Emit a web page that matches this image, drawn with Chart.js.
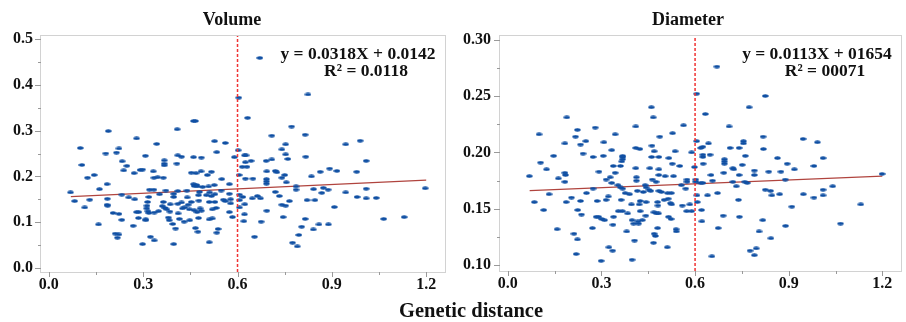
<!DOCTYPE html>
<html>
<head>
<meta charset="utf-8">
<script src="https://cdn.jsdelivr.net/npm/chart.js@4.4.1/dist/chart.umd.min.js"></script>
<style>
  html, body { margin: 0; padding: 0; background: #fff; }
  #wrap { position: relative; width: 906px; height: 322px; background: #fff; }
  #volCanvas { position: absolute; left: 0; top: 0; }
  #diaCanvas { position: absolute; left: 450px; top: 0; }
  #xTitle {
    position: absolute; left: 0; width: 942px; top: 299px; text-align: center;
    font: bold 20.5px "Liberation Serif", serif; color: #111;
  }
</style>
</head>
<body>
<div id="wrap">
  <canvas id="volCanvas" width="450" height="300"></canvas>
  <canvas id="diaCanvas" width="456" height="300"></canvas>
  <div id="xTitle">Genetic distance</div>
</div>
<script>
// ---- data ----
const xTicks = [0, 0.3, 0.6, 0.9, 1.2];
const xTickLabels = ['0.0', '0.3', '0.6', '0.9', '1.2'];
const volTicks = [0, 0.1, 0.2, 0.3, 0.4, 0.5];
const volTickLabels = ['0.0', '0.1', '0.2', '0.3', '0.4', '0.5'];
const diaTicks = [0.10, 0.15, 0.20, 0.25, 0.30];
const diaTickLabels = ['0.10', '0.15', '0.20', '0.25', '0.30'];

const cutoff = 0.6;            // red dashed line
const fitRange = [0.07, 1.2];  // extent of the regression line
const volFit = { slope: 0.0318, intercept: 0.1535 };
const diaFit = { slope: 0.0113, intercept: 0.1654 };
const volEquation = ['y = 0.0318X + 0.0142', 'R\u00B2 = 0.0118'];
const diaEquation = ['y = 0.0113X + 01654', 'R\u00B2 = 00071'];

// [genetic distance, volume]
const volumePoints = [
  [0.671,0.459],[0.604,0.372],[0.824,0.379],[0.632,0.328],[0.460,0.321],[0.466,0.321],[0.408,0.303],
  [0.189,0.299],[0.772,0.309],[0.815,0.291],[0.709,0.289],[0.279,0.283],[0.990,0.278],[0.527,0.277],
  [0.561,0.273],[0.343,0.271],[0.944,0.270],[0.753,0.270],[0.100,0.262],[0.223,0.261],[0.602,0.257],
  [0.741,0.259],[0.534,0.253],[0.181,0.250],[0.215,0.252],[0.753,0.248],[0.307,0.245],[0.410,0.246],
  [0.422,0.243],[0.460,0.242],[0.485,0.241],[0.590,0.242],[0.622,0.246],[0.627,0.246],[0.817,0.243],
  [0.709,0.237],[0.760,0.238],[0.367,0.235],[0.233,0.233],[0.625,0.231],[0.643,0.234],[0.691,0.234],
  [1.009,0.234],[0.367,0.228],[0.367,0.224],[0.407,0.228],[0.105,0.225],[0.248,0.223],[0.615,0.221],
  [0.630,0.221],[0.298,0.215],[0.238,0.213],[0.290,0.214],[0.332,0.211],[0.453,0.208],[0.484,0.211],
  [0.468,0.207],[0.517,0.210],[0.271,0.207],[0.693,0.211],[0.720,0.212],[0.725,0.209],[0.863,0.210],
  [0.893,0.217],[0.916,0.212],[0.979,0.210],[0.144,0.203],[0.504,0.203],[0.605,0.203],[0.750,0.203],
  [0.835,0.200],[0.123,0.197],[0.334,0.197],[0.364,0.197],[0.346,0.198],[0.550,0.194],[0.625,0.195],
  [0.649,0.195],[0.692,0.194],[0.692,0.189],[0.692,0.184],[0.741,0.197],[0.755,0.187],[0.185,0.183],
  [0.574,0.183],[0.460,0.183],[0.470,0.181],[0.462,0.179],[0.472,0.178],[0.489,0.177],[0.508,0.178],
  [0.526,0.181],[0.786,0.178],[0.786,0.171],[0.873,0.175],[0.888,0.171],[1.009,0.173],[1.197,0.174],
  [0.069,0.165],[0.161,0.172],[0.320,0.171],[0.334,0.171],[0.372,0.169],[0.410,0.168],[0.439,0.169],
  [0.479,0.166],[0.511,0.165],[0.548,0.169],[0.574,0.162],[0.606,0.160],[0.663,0.157],[0.673,0.152],
  [0.720,0.166],[0.842,0.172],[0.868,0.164],[0.944,0.165],[0.232,0.160],[0.352,0.161],[0.397,0.162],
  [0.397,0.155],[0.476,0.159],[0.501,0.159],[0.517,0.157],[0.528,0.161],[0.617,0.155],[0.733,0.157],
  [0.980,0.155],[1.009,0.152],[1.041,0.153],[0.254,0.154],[0.273,0.150],[0.130,0.149],[0.186,0.151],
  [0.318,0.155],[0.440,0.154],[0.477,0.147],[0.555,0.149],[0.561,0.146],[0.578,0.150],[0.606,0.148],
  [0.647,0.152],[0.765,0.146],[0.821,0.148],[0.846,0.148],[0.082,0.146],[0.314,0.144],[0.364,0.144],
  [0.422,0.143],[0.453,0.144],[0.510,0.144],[0.528,0.144],[0.185,0.138],[0.187,0.136],[0.312,0.136],
  [0.361,0.135],[0.386,0.139],[0.410,0.140],[0.443,0.138],[0.578,0.141],[0.623,0.139],[0.741,0.138],
  [0.753,0.136],[0.908,0.133],[0.114,0.132],[0.311,0.130],[0.369,0.131],[0.375,0.128],[0.425,0.130],
  [0.432,0.132],[0.447,0.128],[0.462,0.126],[0.481,0.130],[0.532,0.131],[0.606,0.132],[0.279,0.122],
  [0.315,0.124],[0.318,0.120],[0.335,0.121],[0.349,0.124],[0.385,0.123],[0.411,0.119],[0.471,0.122],
  [0.485,0.125],[0.520,0.128],[0.204,0.120],[0.223,0.118],[0.286,0.122],[0.574,0.122],[0.622,0.117],
  [0.693,0.125],[0.285,0.109],[0.308,0.106],[0.308,0.104],[0.380,0.110],[0.383,0.104],[0.415,0.107],
  [0.448,0.104],[0.430,0.101],[0.476,0.109],[0.510,0.106],[0.520,0.108],[0.584,0.111],[0.745,0.111],
  [0.815,0.107],[1.065,0.107],[1.130,0.111],[0.232,0.105],[0.620,0.102],[0.675,0.101],[0.158,0.095],
  [0.394,0.096],[0.268,0.092],[0.859,0.095],[0.889,0.095],[0.403,0.086],[0.466,0.087],[0.538,0.085],
  [0.804,0.090],[0.841,0.084],[0.474,0.079],[0.534,0.077],[0.211,0.075],[0.218,0.066],[0.223,0.073],
  [0.795,0.072],[0.323,0.068],[0.654,0.068],[0.335,0.060],[0.510,0.056],[0.775,0.055],[0.790,0.047],
  [0.298,0.052],[0.397,0.052]
];

// [genetic distance, diameter]
const diameterPoints = [
  [0.670,0.276],[0.605,0.252],[0.825,0.250],[0.633,0.234],[0.460,0.240],[0.466,0.231],[0.189,0.231],
  [0.773,0.240],[0.410,0.223],[0.563,0.224],[0.709,0.223],[0.280,0.222],[0.223,0.220],[0.100,0.216],
  [0.344,0.216],[0.528,0.217],[0.487,0.214],[0.217,0.214],[0.818,0.214],[0.946,0.212],[0.605,0.210],
  [0.755,0.210],[0.755,0.208],[0.992,0.209],[0.250,0.210],[0.308,0.209],[0.183,0.208],[0.233,0.207],
  [0.462,0.206],[0.643,0.208],[0.410,0.204],[0.423,0.203],[0.625,0.205],[0.618,0.204],[0.712,0.204],
  [0.741,0.204],[0.819,0.203],[0.333,0.202],[0.469,0.201],[0.536,0.201],[0.589,0.200],[0.241,0.199],
  [0.147,0.197],[0.368,0.197],[0.368,0.196],[0.368,0.194],[0.273,0.196],[0.306,0.197],[0.461,0.196],
  [0.484,0.196],[0.516,0.195],[0.625,0.198],[0.625,0.196],[0.648,0.198],[0.694,0.194],[0.694,0.192],
  [0.694,0.190],[0.761,0.197],[0.864,0.195],[1.010,0.195],[0.105,0.191],[0.365,0.192],[0.527,0.190],
  [0.551,0.188],[0.626,0.190],[0.751,0.189],[0.895,0.190],[0.981,0.188],[0.338,0.188],[0.361,0.188],
  [0.124,0.185],[0.410,0.186],[0.455,0.186],[0.484,0.185],[0.598,0.187],[0.721,0.186],[0.724,0.185],
  [0.918,0.185],[0.292,0.183],[0.344,0.182],[0.183,0.182],[0.185,0.180],[0.484,0.180],[0.504,0.179],
  [0.531,0.179],[0.692,0.182],[0.790,0.184],[0.790,0.180],[0.836,0.183],[0.875,0.183],[0.741,0.180],
  [0.651,0.180],[1.199,0.181],[0.069,0.179],[0.162,0.177],[0.328,0.178],[0.315,0.176],[0.412,0.178],
  [0.412,0.175],[0.463,0.176],[0.475,0.174],[0.574,0.176],[0.574,0.174],[0.602,0.176],[0.602,0.174],
  [0.656,0.175],[0.183,0.174],[0.333,0.173],[0.721,0.174],[0.759,0.174],[0.767,0.173],[0.889,0.176],
  [0.353,0.171],[0.361,0.169],[0.440,0.171],[0.443,0.169],[0.452,0.167],[0.458,0.166],[0.556,0.171],
  [0.618,0.173],[0.625,0.173],[0.732,0.170],[1.041,0.170],[0.273,0.168],[0.368,0.168],[0.376,0.164],
  [0.390,0.163],[0.415,0.166],[0.434,0.165],[0.484,0.166],[0.492,0.165],[0.512,0.164],[0.524,0.164],
  [0.514,0.159],[0.570,0.168],[0.672,0.164],[0.825,0.167],[0.842,0.166],[0.846,0.162],[0.871,0.163],
  [1.010,0.167],[1.010,0.162],[0.132,0.163],[0.252,0.164],[0.606,0.162],[0.640,0.162],[0.947,0.163],
  [0.981,0.160],[0.204,0.160],[0.085,0.156],[0.187,0.156],[0.233,0.157],[0.286,0.157],[0.315,0.158],
  [0.322,0.161],[0.363,0.158],[0.396,0.154],[0.424,0.157],[0.421,0.154],[0.443,0.156],[0.480,0.156],
  [0.481,0.153],[0.501,0.158],[0.521,0.155],[0.525,0.154],[0.559,0.153],[0.583,0.154],[0.607,0.156],
  [0.739,0.158],[0.910,0.152],[1.131,0.154],[0.115,0.149],[0.224,0.149],[0.236,0.145],[0.354,0.148],
  [0.367,0.148],[0.384,0.146],[0.424,0.148],[0.442,0.144],[0.468,0.147],[0.476,0.146],[0.483,0.146],
  [0.573,0.148],[0.589,0.148],[0.621,0.149],[0.283,0.143],[0.291,0.143],[0.301,0.141],[0.310,0.140],
  [0.339,0.143],[0.398,0.140],[0.417,0.139],[0.419,0.137],[0.403,0.137],[0.431,0.140],[0.515,0.143],
  [0.523,0.141],[0.690,0.144],[0.742,0.143],[0.817,0.140],[0.622,0.139],[0.890,0.135],[1.066,0.137],
  [0.337,0.136],[0.271,0.133],[0.158,0.132],[0.480,0.133],[0.473,0.126],[0.539,0.132],[0.540,0.130],
  [0.674,0.133],[0.381,0.130],[0.212,0.128],[0.805,0.130],[0.469,0.128],[0.223,0.123],[0.843,0.124],
  [0.406,0.122],[0.467,0.120],[0.511,0.116],[0.324,0.116],[0.336,0.113],[0.776,0.113],[0.796,0.115],
  [0.790,0.109],[0.219,0.110],[0.654,0.108],[0.398,0.105],[0.299,0.104]
];

// ---- drawing ----
const serif = '"Liberation Serif", "Times New Roman", serif';
const dotColor = '#0f4fa3';

// small flattened dot like the original markers
function makeDot() {
  const c = document.createElement('canvas');
  c.width = 7; c.height = 4;
  const g = c.getContext('2d');
  g.fillStyle = dotColor;
  g.beginPath();
  g.ellipse(3.5, 2, 3.2, 1.7, 0, 0, Math.PI * 2);
  g.fill();
  return c;
}
const dot = makeDot();

// frame, tick marks, title and equation for each panel
const panelDecor = {
  id: 'panelDecor',
  afterDraw(chart, args, opts) {
    const ctx = chart.ctx;
    const a = chart.chartArea;
    const xs = chart.scales.x, ys = chart.scales.y;
    ctx.save();
    ctx.strokeStyle = '#d2d2d2';
    ctx.lineWidth = 1;
    ctx.strokeRect(Math.round(a.left) - 0.5, Math.round(a.top) + 0.5,
      Math.round(a.right - a.left), Math.round(a.bottom - a.top));

    ctx.strokeStyle = '#999';
    ctx.beginPath();
    opts.xMajor.forEach((v, i) => {
      const px = Math.round(xs.getPixelForValue(v)) + 0.5;
      ctx.moveTo(px, a.bottom); ctx.lineTo(px, a.bottom + 5);
      if (i < opts.xMajor.length - 1) {
        const mx = Math.round(xs.getPixelForValue((v + opts.xMajor[i + 1]) / 2)) + 0.5;
        ctx.moveTo(mx, a.bottom); ctx.lineTo(mx, a.bottom + 3);
      }
    });
    opts.yMajor.forEach((v, i) => {
      const py = Math.round(ys.getPixelForValue(v)) + 0.5;
      ctx.moveTo(a.left, py); ctx.lineTo(a.left - 6, py);
      if (i < opts.yMajor.length - 1) {
        const my = Math.round(ys.getPixelForValue((v + opts.yMajor[i + 1]) / 2)) + 0.5;
        ctx.moveTo(a.left, my); ctx.lineTo(a.left - 3, my);
      }
    });
    ctx.stroke();

    ctx.fillStyle = '#111';
    ctx.textAlign = 'center';
    ctx.textBaseline = 'middle';
    ctx.font = 'bold 18px ' + serif;
    ctx.fillText(opts.title, opts.titleX, 20);
    ctx.font = 'bold 17.5px ' + serif;
    ctx.fillText(opts.eq[0], opts.eqX, 54);
    ctx.fillText(opts.eq[1], opts.eqX + 8, 71);
    ctx.restore();
  }
};

function fitLine(fit) {
  return fitRange.map(x => ({ x: x, y: fit.slope * x + fit.intercept }));
}

function makePanel(canvasId, points, fit, yTicks, yLabels, yMin, yMax, cfg) {
  const tickFont = { family: serif, size: 16, weight: 'bold' };
  return new Chart(document.getElementById(canvasId), {
    type: 'scatter',
    data: {
      datasets: [
        {
          data: [{ x: cutoff, y: yMin }, { x: cutoff, y: yMax }],
          showLine: true, pointRadius: 0,
          borderColor: '#f03232', borderWidth: 1.5, borderDash: [3, 2]
        },
        {
          data: points.map(p => ({ x: p[0], y: p[1] })),
          pointStyle: dot, pointRadius: 3,
          backgroundColor: dotColor, borderWidth: 0
        },
        {
          data: fitLine(fit),
          showLine: true, pointRadius: 0,
          borderColor: '#b0443e', borderWidth: 1.3
        }
      ]
    },
    options: {
      responsive: false,
      animation: false,
      devicePixelRatio: 1,
      layout: { padding: { top: 35, right: cfg.padRight, left: 0, bottom: 0 } },
      plugins: {
        legend: { display: false },
        tooltip: { enabled: false },
        panelDecor: {
          xMajor: xTicks, yMajor: yTicks,
          title: cfg.title, titleX: cfg.titleX, eq: cfg.eq, eqX: cfg.eqX
        }
      },
      scales: {
        x: {
          type: 'linear', min: -0.025, max: 1.263,
          grid: { display: false }, border: { display: false },
          afterBuildTicks: s => { s.ticks = xTicks.map(v => ({ value: v })); },
          afterFit: s => { s.height = cfg.xHeight; },
          ticks: {
            font: tickFont, color: '#111', padding: -5, maxRotation: 0, autoSkip: false,
            callback: (v, i) => xTickLabels[i]
          }
        },
        y: {
          type: 'linear', min: yMin, max: yMax,
          grid: { display: false }, border: { display: false },
          afterBuildTicks: s => { s.ticks = yTicks.map(v => ({ value: v })); },
          afterFit: s => { s.width = cfg.yWidth; },
          ticks: {
            font: tickFont, color: '#111', padding: cfg.yPad, autoSkip: false,
            callback: (v, i) => yLabels[i]
          }
        }
      }
    },
    plugins: [panelDecor]
  });
}

makePanel('volCanvas', volumePoints, volFit, volTicks, volTickLabels, -0.009, 0.509, {
  title: 'Volume', titleX: 232, eq: volEquation, eqX: 358,
  padRight: 4, yWidth: 41, xHeight: 28, yPad: 0
});
makePanel('diaCanvas', diameterPoints, diaFit, diaTicks, diaTickLabels, 0.095, 0.304, {
  title: 'Diameter', titleX: 238, eq: diaEquation, eqX: 367,
  padRight: 1, yWidth: 50, xHeight: 29, yPad: 1
});
</script>
</body>
</html>
